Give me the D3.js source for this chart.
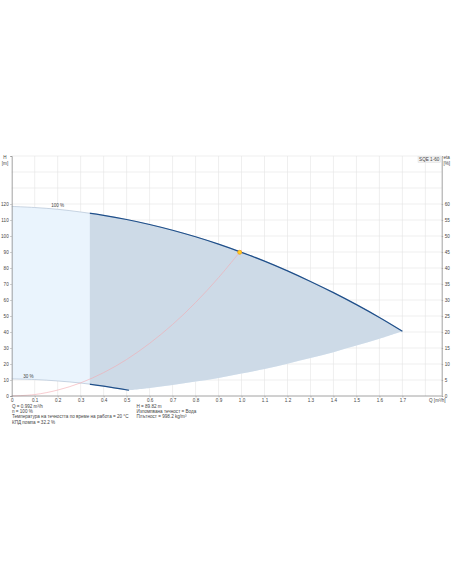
<!DOCTYPE html>
<html>
<head>
<meta charset="utf-8">
<script src="https://cdn.jsdelivr.net/npm/d3@7"></script>
<style>
  body { margin: 0; background: #fff; }
  svg text { font-family: 'Liberation Sans', Arial, sans-serif; fill: #444; }
</style>
</head>
<body>
<div id="chart-area"></div>
<script>
// pump curve at 100 % speed
var qPump = [0, 0.1, 0.2, 0.3, 0.4, 0.5, 0.6, 0.7, 0.8, 0.9, 1.0, 1.1, 1.2, 1.3, 1.4, 1.5, 1.6, 1.7]
var hPump = [118.5, 117.8, 116.7, 115.0, 112.9, 110.3, 107.2, 103.6, 99.5, 94.9, 89.8, 84.3, 78.2, 71.6, 64.6, 57.1, 49.1, 40.5]

// pump curve at 30 % speed
var q30 = [0, 0.1, 0.2, 0.3, 0.4, 0.51]
var h30 = [10.7, 10.3, 9.4, 8.1, 6.2, 3.6]

// end of curve line (max flow at each speed)
var qEnd = [0.51, 0.6, 0.7, 0.8, 0.9, 1.0, 1.1, 1.2, 1.3, 1.4, 1.5, 1.6, 1.7]
var hEnd = [3.6, 5.0, 6.9, 9.0, 11.3, 14.0, 16.9, 20.2, 23.7, 27.4, 31.5, 35.8, 40.5]

// system curve
var qSys = [0, 0.1, 0.2, 0.3, 0.4, 0.5, 0.6, 0.7, 0.8, 0.9, 1.0]
var hSys = [0, 0.9, 3.7, 8.2, 14.6, 22.8, 32.9, 44.7, 58.4, 74.0, 91.3]

// duty point and minimum flow limit
var duty = {q: 0.992, h: 89.82}
var qMinFlow = 0.34

// tick labels
var xTicks = [0, 0.1, 0.2, 0.3, 0.4, 0.5, 0.6, 0.7, 0.8, 0.9, 1.0, 1.1, 1.2, 1.3, 1.4, 1.5, 1.6, 1.7]
var hTicks = [0, 10, 20, 30, 40, 50, 60, 70, 80, 90, 100, 110, 120]
var etaTicks = [0, 5, 10, 15, 20, 25, 30, 35, 40, 45, 50, 55, 60]

var infoLeft = ['Q = 0.992 m³/h', 'n = 100 %', 'Температура на течността по време на работа = 20 °C', 'КПД помпа = 32.2 %']
var infoRight = ['H = 89.82 m', 'Изпомпвана течност = Вода', 'Плътност = 998.2 kg/m³']

var fs = 4.6

var svg = d3.select('#chart-area')
  .append('svg')
  .attr('width', 452)
  .attr('height', 584)

var x = d3.scaleLinear().domain([0, 1.871]).range([11.7, 441.7])
var y = d3.scaleLinear().domain([0, 150]).range([396, 156])
var yEta = d3.scaleLinear().domain([0, 75]).range([396, 156])

// grid
var grid = svg.append('g')
grid.selectAll('.hg')
  .data(d3.range(10, 151, 10))
  .enter().append('line')
  .attr('x1', x(0)).attr('x2', x.range()[1])
  .attr('y1', function (d) { return y(d) }).attr('y2', function (d) { return y(d) })
  .attr('stroke', '#e4e4e4').attr('stroke-width', 0.6)
grid.selectAll('.vg')
  .data(d3.range(1, 19).map(function (i) { return i / 10 }))
  .enter().append('line')
  .attr('x1', function (d) { return x(d) }).attr('x2', function (d) { return x(d) })
  .attr('y1', y(150)).attr('y2', y(0))
  .attr('stroke', '#e4e4e4').attr('stroke-width', 0.6)

// zip helper
function pts (qs, hs) {
  return qs.map(function (q, i) { return [q, hs[i]] })
}

var line = d3.line()
  .x(function (d) { return x(d[0]) })
  .y(function (d) { return y(d[1]) })
  .curve(d3.curveCatmullRom)

// envelope: 100 % curve, end line back, 30 % curve back
var env = line(pts(qPump, hPump)) +
  line(pts(qEnd, hEnd).reverse()).replace(/^M/, 'L') +
  line(pts(q30, h30).reverse()).replace(/^M/, 'L') + 'Z'

svg.append('defs').append('clipPath')
  .attr('id', 'okClip')
  .append('rect')
  .attr('x', x(qMinFlow)).attr('y', 0)
  .attr('width', 452).attr('height', 584)

svg.append('path')
  .attr('d', env)
  .attr('fill', '#eaf4fd')

svg.append('path')
  .attr('d', env)
  .attr('fill', '#cddae7')
  .attr('clip-path', 'url(#okClip)')

// curves: light part left of min flow, dark part right
;[pts(qPump, hPump), pts(q30, h30)].forEach(function (p) {
  svg.append('path')
    .attr('d', line(p))
    .attr('fill', 'none')
    .attr('stroke', '#b3c3d6')
    .attr('stroke-width', 0.7)
  svg.append('path')
    .attr('d', line(p))
    .attr('fill', 'none')
    .attr('stroke', '#1f4f8a')
    .attr('stroke-width', 1.2)
    .attr('clip-path', 'url(#okClip)')
})

// system curve
svg.append('path')
  .attr('d', line(pts(qSys, hSys)))
  .attr('fill', 'none')
  .attr('stroke', '#f4a9b0')
  .attr('stroke-width', 0.6)

// duty point
svg.append('circle')
  .attr('cx', x(duty.q)).attr('cy', y(duty.h))
  .attr('r', 2)
  .attr('fill', '#ffd21f')
  .attr('stroke', '#f39a1e')
  .attr('stroke-width', 0.8)

// curve labels
svg.append('text')
  .attr('x', x(0.2)).attr('y', y(118.4))
  .attr('font-size', fs).attr('text-anchor', 'middle')
  .text('100 %')
svg.append('text')
  .attr('x', x(0.073)).attr('y', y(11.3))
  .attr('font-size', fs).attr('text-anchor', 'middle')
  .text('30 %')

// axes
var xAxis = d3.axisBottom(x).tickValues(xTicks).tickSize(1.5).tickPadding(1.5)
  .tickFormat(function (d) { return d === 0 ? '0' : d3.format('.1f')(d) })
var xg = svg.append('g').attr('transform', 'translate(0,' + y(0) + ')').call(xAxis)

var yAxis = d3.axisLeft(y).tickValues(hTicks).tickSize(1.5).tickPadding(1.5)
var yg = svg.append('g').attr('transform', 'translate(' + x(0) + ',0)').call(yAxis)

var eAxis = d3.axisRight(yEta).tickValues(etaTicks).tickSize(1.5).tickPadding(1.5)
var eg = svg.append('g').attr('transform', 'translate(' + x.range()[1] + ',0)').call(eAxis)

;[xg, yg, eg].forEach(function (g) {
  g.select('.domain').attr('stroke', '#8a8a8a').attr('stroke-width', 0.8)
  g.selectAll('.tick line').attr('stroke', '#8a8a8a').attr('stroke-width', 0.5)
  g.selectAll('.tick text').attr('font-size', fs).attr('fill', '#444')
    .attr('font-family', "'Liberation Sans', Arial, sans-serif")
})
xg.select('.domain').attr('d', 'M' + x(0) + ',0H' + x.range()[1])

// axis titles
svg.append('text').attr('x', 5).attr('y', 159).attr('font-size', fs).attr('text-anchor', 'middle').text('H')
svg.append('text').attr('x', 5).attr('y', 164.5).attr('font-size', fs).attr('text-anchor', 'middle').text('[m]')
svg.append('text').attr('x', 443.5).attr('y', 159).attr('font-size', fs).text('eta')
svg.append('text').attr('x', 443.5).attr('y', 164.5).attr('font-size', fs).text('[%]')
svg.append('text').attr('x', 429).attr('y', 401.8).attr('font-size', fs).text('Q [m³/h]')

// pump name box
svg.append('rect')
  .attr('x', 418).attr('y', 156.5).attr('width', 22.5).attr('height', 6)
  .attr('fill', '#f2f2f2').attr('stroke', '#d8d8d8').attr('stroke-width', 0.4)
svg.append('text').attr('x', 429.2).attr('y', 161.2).attr('font-size', fs)
  .attr('text-anchor', 'middle').text('SQE 1-60')

// info text
svg.selectAll('.infoL')
  .data(infoLeft)
  .enter().append('text')
  .attr('x', 12).attr('y', function (d, i) { return 407.6 + i * 5.4 })
  .attr('font-size', fs)
  .text(function (d) { return d })
svg.selectAll('.infoR')
  .data(infoRight)
  .enter().append('text')
  .attr('x', 136.5).attr('y', function (d, i) { return 407.6 + i * 5.4 })
  .attr('font-size', fs)
  .text(function (d) { return d })
</script>
</body>
</html>
